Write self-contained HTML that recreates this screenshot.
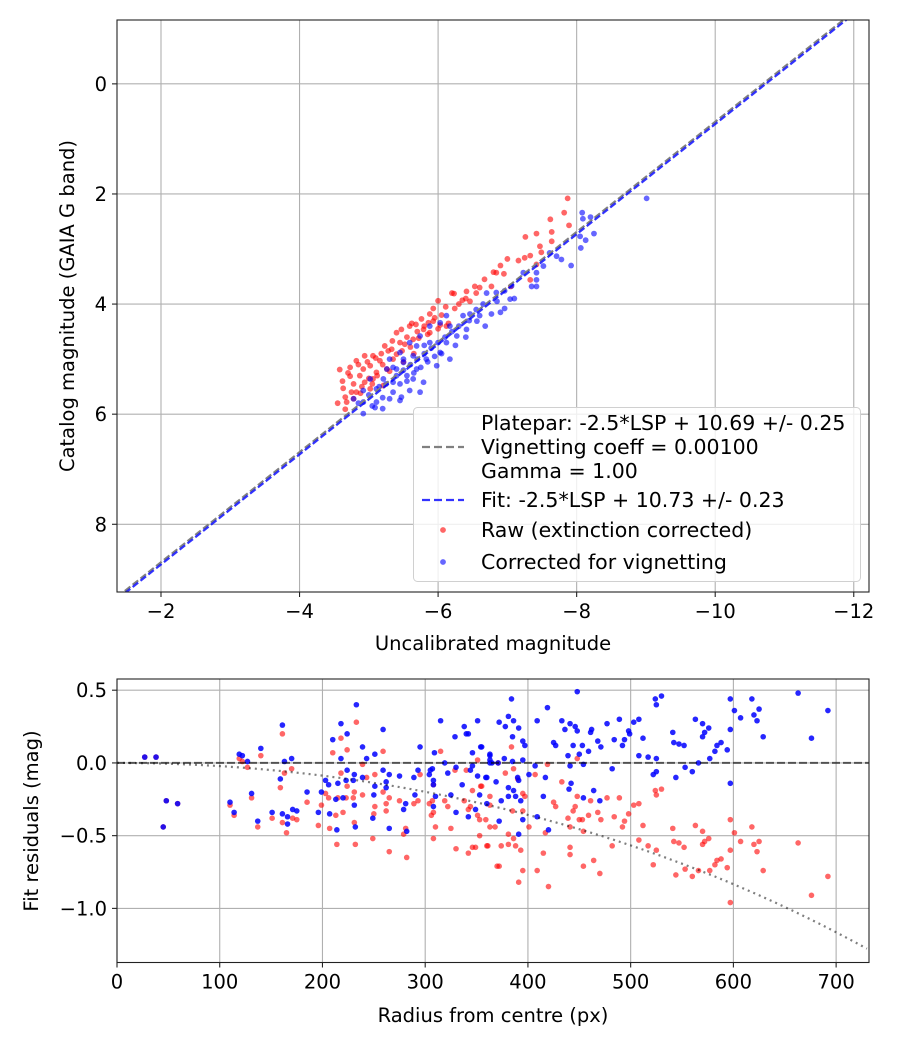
<!DOCTYPE html>
<html><head><meta charset="utf-8">
<style>
html,body{margin:0;padding:0;background:#fff;}
svg{display:block;font-family:"DejaVu Sans","Liberation Sans",sans-serif;}
</style></head>
<body>
<svg id="fig" width="900" height="1050" viewBox="0 0 900 1050" xmlns="http://www.w3.org/2000/svg"></svg>
<script>
// ---------- TOP PLOT DATA ----------
const topXTicks=[-2,-4,-6,-8,-10,-12];
const topYTicks=[0,2,4,6,8];
const plateparOffset=10.69;
const fitOffset=10.73;
const rawUncal=[-7.87,-7.82,-7.62,-7.89,-7.42,-7.26,-7.64,-7.64,-7.47,-7.49,-7.33,-7.25,-7.16,-7.00,-7.42,-6.90,-6.84,-6.80,-6.95,-6.67,-7.33,-6.53,-6.77,-7.05,-6.41,-6.20,-6.23,-6.35,-6.00,-6.46,-6.11,-5.93,-6.24,-5.88,-5.76,-5.62,-5.59,-5.68,-5.86,-5.93,-6.03,-6.12,-5.79,-5.88,-5.47,-5.40,-5.34,-5.52,-5.64,-5.33,-5.23,-5.06,-4.94,-4.82,-5.16,-5.02,-4.92,-4.73,-4.58,-5.11,-4.87,-4.73,-4.94,-4.78,-4.63,-5.21,-5.02,-4.82,-4.66,-4.78,-4.66,-5.06,-5.26,-5.40,
-4.70,-4.85,-4.98,-5.10,-5.18,-5.28,-5.45,-5.55,-5.70,-5.80,-5.95,-6.05,-6.30,-6.40,-6.55,-6.60,-4.62,-4.75,-4.90,-5.00,-5.12,-5.20,-5.35,-5.48,-5.60,-5.72,-5.85,-6.00,-4.55,-4.68,-4.88,-5.05,-5.30,-5.50,-5.65,-6.15];
const rawCat=[2.08,2.34,2.46,2.57,2.72,2.78,2.69,2.86,2.95,3.06,3.12,3.16,3.21,3.18,3.28,3.30,3.43,3.42,3.45,3.55,3.56,3.68,3.68,3.68,3.77,3.80,3.81,3.93,3.94,3.95,4.05,4.08,4.08,4.18,4.27,4.35,4.40,4.37,4.34,4.31,4.38,4.40,4.46,4.52,4.46,4.52,4.67,4.73,4.64,4.82,4.76,4.94,4.94,5.03,5.03,5.12,5.18,5.15,5.19,5.24,5.30,5.31,5.42,5.45,5.53,5.48,5.54,5.60,5.69,5.72,5.91,5.36,5.18,4.91,
5.25,5.10,5.05,4.98,4.90,4.85,4.70,4.60,4.50,4.40,4.25,4.20,4.00,3.90,3.80,3.70,5.40,5.60,5.50,5.35,5.30,5.10,5.00,4.85,4.78,4.62,4.55,4.45,5.80,5.78,5.62,5.45,5.22,5.05,4.90,4.35];
const corUncal=[-8.08,-8.20,-8.09,-8.25,-8.13,-8.05,-8.06,-7.92,-7.78,-7.71,-7.61,-7.52,-7.42,-7.42,-7.35,-7.42,-7.23,-7.06,-6.96,-7.04,-6.96,-6.84,-6.70,-6.77,-6.60,-6.68,-6.56,-6.46,-6.36,-6.41,-6.27,-6.17,-6.12,-6.03,-5.88,-5.74,-5.88,-6.12,-6.17,-6.03,-5.98,-5.83,-5.69,-5.59,-5.64,-5.45,-5.50,-5.69,-5.79,-5.55,-5.40,-5.30,-5.26,-5.35,-5.59,-5.47,-5.30,-5.11,-5.09,-4.92,-4.92,-5.11,-5.21,-5.02,-4.78,-4.92,-5.74,-5.64,-9.01,
-5.00,-5.15,-5.25,-5.40,-5.50,-5.60,-5.70,-5.80,-5.90,-6.00,-6.10,-6.20,-6.30,-6.45,-6.55,-6.65,-6.85,-5.05,-5.20,-5.35,-5.45,-5.55,-5.65,-5.75,-5.85,-5.95,-6.05,-6.25,-4.85,-5.20,-5.45,-5.35,-5.50,-5.80,-6.40,-6.90,-7.10];
const corCat=[2.34,2.42,2.45,2.72,2.84,2.77,2.98,3.30,3.19,3.13,3.07,3.31,3.43,3.56,3.68,3.68,3.43,3.67,3.76,3.91,4.08,3.79,3.80,4.18,4.21,4.40,4.31,4.18,4.21,4.46,4.58,4.40,4.21,4.34,4.40,4.58,4.70,4.70,5.00,4.88,5.12,5.00,4.76,4.70,4.94,4.88,5.06,5.18,5.42,5.30,5.18,5.00,5.18,5.42,5.57,5.69,5.72,5.78,5.88,5.78,5.57,5.54,5.36,5.36,5.72,5.99,5.60,5.36,2.08,
5.65,5.50,5.45,5.30,5.20,5.10,5.00,4.90,4.80,4.70,4.60,4.50,4.40,4.30,4.10,4.00,3.95,5.85,5.70,5.60,5.45,5.40,5.25,5.15,5.05,4.95,4.90,4.75,5.80,5.90,5.75,5.15,5.00,4.75,4.60,4.15,3.90];

// ---------- BOTTOM PLOT DATA ----------
const botXTicks=[0,100,200,300,400,500,600,700];
const botYTicks=[0.5,0.0,-0.5,-1.0];
const botYLabels=["0.5","0.0","\u22120.5","\u22121.0"];
const vignCoeff=0.001;
const rawR=[27,38,48,59,45,110,114,119,122,127,131,137,140,151,159,161,163,161,165,170,171,175,185,196,199,203,206,210,207,214,213,215,218,218,220,224,224,223,231,230,231,232,233,239,239,243,249,250,251,251,259,259,262,262,265,265,275,279,281,282,289,293,295,304,306,307,308,308,310,308,315,319,322,325,329,330,338,340,342,342,344,346,346,349,351,351,353,355,360,363,363,353,370,354,359,361,363,368,371,372,374,378,381,381,384,385,386,386,388,390,391,393,395,395,395,397,401,407,409,415,417,419,420,425,427,433,439,441,441,441,444,446,448,448,450,453,454,454,459,461,464,468,470,471,477,482,484,489,492,494,498,503,508,508,512,517,522,524,525,525,530,541,542,544,547,552,553,560,563,566,570,570,572,576,577,582,584,588,594,597,597,597,601,607,618,620,623,625,629,663,676,692];
const rawRes=[0.04,0.04,-0.26,-0.28,-0.44,-0.29,-0.36,0.03,0.01,-0.03,-0.24,-0.44,0.05,-0.38,-0.17,0.20,-0.07,-0.41,-0.48,-0.04,-0.38,-0.39,-0.27,-0.43,-0.29,-0.21,-0.24,0.07,-0.45,-0.56,-0.36,-0.24,0.17,-0.07,-0.34,0.09,-0.16,-0.24,-0.20,-0.24,-0.41,-0.56,0.28,-0.01,-0.22,-0.10,-0.52,-0.35,-0.08,-0.30,0.08,-0.20,-0.28,-0.33,-0.24,-0.61,-0.26,-0.49,-0.45,-0.65,-0.28,-0.26,-0.08,-0.28,-0.36,-0.26,-0.34,-0.15,-0.44,-0.52,0.08,-0.26,-0.30,-0.45,-0.05,-0.59,-0.26,-0.05,-0.32,-0.62,-0.30,-0.19,-0.58,-0.58,0.02,-0.36,-0.39,-0.16,-0.57,-0.44,-0.23,-0.50,-0.71,-0.16,-0.39,-0.57,-0.29,-0.44,0.00,-0.71,-0.57,-0.07,-0.49,-0.56,0.11,-0.33,-0.04,-0.52,-0.57,-0.11,-0.82,-0.60,-0.33,-0.74,-0.21,-0.23,-0.44,-0.08,-0.74,-0.62,-0.48,-0.01,-0.85,-0.27,-0.30,-0.13,-0.38,-0.58,-0.63,-0.44,-0.33,-0.30,0.03,-0.23,-0.39,-0.39,-0.71,-0.47,-0.36,-0.26,-0.67,-0.34,-0.76,-0.39,-0.24,-0.57,-0.37,-0.24,-0.44,-0.40,-0.35,-0.29,-0.28,-0.53,-0.43,-0.57,-0.70,-0.19,-0.22,-0.60,-0.18,-0.45,-0.54,-0.77,-0.55,-0.58,-0.73,-0.78,-0.43,-0.74,-0.47,-0.56,-0.54,-0.52,-0.74,-0.70,-0.67,-0.66,-0.72,-0.39,-0.60,-0.96,-0.48,-0.54,-0.44,-0.56,-0.61,-0.54,-0.74,-0.55,-0.91,-0.78];
const corR=[27,38,48,59,45,110,114,119,122,127,131,137,140,151,159,161,163,161,166,170,171,175,166,185,196,199,203,206,210,207,214,213,215,218,218,220,224,224,223,231,230,231,232,233,239,239,243,249,250,251,251,259,259,262,262,265,265,275,279,281,282,289,290,293,295,304,305,307,308,308,309,308,310,315,319,322,325,329,330,336,330,338,340,342,344,346,346,351,351,353,355,349,342,360,363,363,360,354,359,363,363,365,369,371,372,374,372,377,378,381,381,381,384,385,385,386,386,388,390,391,391,393,395,395,397,395,391,401,407,409,409,415,417,419,420,425,427,433,436,439,441,441,442,440,444,446,448,448,450,453,454,454,459,461,462,464,468,470,471,477,482,484,489,492,494,498,499,503,508,508,512,517,522,524,525,525,525,530,541,542,544,547,552,553,560,563,566,570,570,572,576,577,582,584,588,594,597,597,597,601,607,618,620,623,625,629,663,676,692];
const corRes=[0.04,0.04,-0.26,-0.28,-0.44,-0.27,-0.34,0.06,0.05,0.01,-0.21,-0.40,0.10,-0.34,-0.11,0.26,0.01,-0.35,-0.37,0.03,-0.32,-0.33,-0.42,-0.20,-0.34,-0.20,-0.12,-0.15,0.16,-0.35,-0.46,-0.25,-0.14,0.27,0.03,-0.24,0.20,-0.05,-0.12,-0.08,-0.12,-0.29,-0.44,0.40,0.11,-0.10,0.03,-0.38,-0.22,0.06,-0.16,0.23,-0.05,-0.13,-0.17,-0.08,-0.45,-0.09,-0.32,-0.28,-0.47,-0.10,-0.22,-0.05,0.11,-0.08,-0.05,-0.04,-0.12,-0.15,0.07,-0.30,-0.23,0.29,0.00,-0.07,-0.22,0.18,-0.03,-0.15,-0.34,0.25,0.20,0.20,-0.05,0.07,-0.02,0.29,-0.09,-0.22,0.11,-0.32,-0.37,-0.10,0.00,0.05,-0.28,0.11,-0.10,0.06,0.02,0.00,-0.13,0.00,0.28,-0.26,-0.40,0.03,0.25,-0.17,0.32,-0.23,0.44,0.01,0.18,0.29,-0.19,-0.23,-0.10,0.24,-0.12,-0.26,0.15,0.02,0.12,-0.39,-0.49,-0.08,-0.02,0.29,-0.37,-0.23,-0.10,0.38,-0.46,0.14,0.12,0.29,0.23,0.05,0.27,-0.02,-0.14,-0.18,0.12,0.25,0.49,0.22,0.06,0.12,-0.01,-0.24,0.08,0.21,0.23,-0.19,0.15,-0.26,0.11,0.27,-0.04,0.16,0.30,0.12,0.16,0.22,0.20,0.28,0.30,0.05,0.17,0.04,-0.08,0.44,0.40,-0.06,0.03,0.46,0.21,0.14,-0.10,0.13,0.12,-0.03,-0.06,0.30,0.00,0.27,0.18,0.21,0.24,0.03,0.08,0.12,0.14,0.09,0.44,0.23,-0.14,0.36,0.31,0.44,0.33,0.29,0.37,0.18,0.48,0.17,0.36];

const NS='http://www.w3.org/2000/svg';
const svg=document.getElementById('fig');
function mk(tag,attrs,parent){const e=document.createElementNS(NS,tag);for(const k in attrs)e.setAttribute(k,attrs[k]);(parent||svg).appendChild(e);return e;}
function fmt(v){return v<0?'\u2212'+Math.abs(v):String(v);}
const FS=19.5;

// ===== TOP AXES =====
const T={l:117,r:869,t:20,b:592,x0:-1.365,x1:-12.22,y0:-1.16,y1:9.23};
const tx=v=>T.l+(v-T.x0)/(T.x1-T.x0)*(T.r-T.l);
const ty=v=>T.t+(v-T.y0)/(T.y1-T.y0)*(T.b-T.t);
const topG=mk('g',{});


const ct=mk('clipPath',{id:'ct'});mk('rect',{x:T.l,y:T.t,width:T.r-T.l,height:T.b-T.t},ct);
topXTicks.forEach(v=>{
  const g=mk('line',{x1:tx(v),x2:tx(v),y1:T.t,y2:T.b,stroke:'#b0b0b0','stroke-width':1.1},topG);
  
  mk('line',{x1:tx(v),x2:tx(v),y1:T.b,y2:T.b+5,stroke:'#222','stroke-width':1.1},topG);
  const t=mk('text',{x:tx(v),y:T.b+26,'text-anchor':'middle','font-size':FS},topG);t.textContent=fmt(v);
  
});
topYTicks.forEach(v=>{
  const g=mk('line',{x1:T.l,x2:T.r,y1:ty(v),y2:ty(v),stroke:'#b0b0b0','stroke-width':1.1},topG);
  
  mk('line',{x1:T.l-5,x2:T.l,y1:ty(v),y2:ty(v),stroke:'#222','stroke-width':1.1},topG);
  const t=mk('text',{x:T.l-10,y:ty(v)+7,'text-anchor':'end','font-size':FS},topG);t.textContent=fmt(v);
  
});
const pts=mk('g',{'clip-path':'url(#ct)'},topG);

rawUncal.forEach((x,i)=>{const c=mk('circle',{cx:tx(x),cy:ty(rawCat[i]),r:2.9,fill:'rgba(255,0,0,0.6)'},pts);
  });
corUncal.forEach((x,i)=>{const c=mk('circle',{cx:tx(x),cy:ty(corCat[i]),r:2.9,fill:'rgba(0,0,255,0.6)'},pts);
  });
const pl=mk('line',{x1:tx(T.x0),y1:ty(T.x0+plateparOffset),x2:tx(T.x1),y2:ty(T.x1+plateparOffset),stroke:'#808080','stroke-width':2.2,'stroke-dasharray':'7,3'},pts);

const fl=mk('line',{x1:tx(T.x0),y1:ty(T.x0+fitOffset),x2:tx(T.x1),y2:ty(T.x1+fitOffset),stroke:'rgba(0,0,255,0.8)','stroke-width':2.2,'stroke-dasharray':'7,3'},pts);

const tf=mk('rect',{x:T.l,y:T.t,width:T.r-T.l,height:T.b-T.t,fill:'none',stroke:'#222','stroke-width':1.1},topG);

let lab=mk('text',{x:493,y:650,'text-anchor':'middle','font-size':FS},topG);lab.textContent='Uncalibrated magnitude';

lab=mk('text',{x:0,y:0,'text-anchor':'middle','font-size':FS,transform:'translate(74,306) rotate(-90)'},topG);lab.textContent='Catalog magnitude (GAIA G band)';


// legend
const lg=mk('g',{},topG);

mk('rect',{x:413.5,y:407.5,width:447,height:174,rx:4,fill:'rgba(255,255,255,0.8)',stroke:'#d0d0d0','stroke-width':1},lg);
const legRows=[['Platepar: -2.5*LSP + 10.69 +/- 0.25',423],['Vignetting coeff = 0.00100',447],['Gamma = 1.00',471],['Fit: -2.5*LSP + 10.73 +/- 0.23',500],['Raw (extinction corrected)',530],['Corrected for vignetting',562]];
legRows.forEach(r=>{const t=mk('text',{x:481,y:r[1]+7,'font-size':20.5},lg);t.textContent=r[0];
  });
mk('line',{x1:422,x2:464,y1:447,y2:447,stroke:'#808080','stroke-width':2.2,'stroke-dasharray':'8,4'},lg);
mk('line',{x1:422,x2:464,y1:500,y2:500,stroke:'rgba(0,0,255,0.8)','stroke-width':2.2,'stroke-dasharray':'8,4'},lg);
mk('circle',{cx:443,cy:530,r:2.9,fill:'rgba(255,0,0,0.6)'},lg);
mk('circle',{cx:443,cy:562,r:2.9,fill:'rgba(0,0,255,0.6)'},lg);

// ===== BOTTOM AXES =====
const B={l:117,r:869,t:679,b:962.5,x0:0,x1:732,y0:0.577,y1:-1.372};
const bx=v=>B.l+(v-B.x0)/(B.x1-B.x0)*(B.r-B.l);
const by=v=>B.t+(v-B.y0)/(B.y1-B.y0)*(B.b-B.t);
const botG=mk('g',{});

const cb=mk('clipPath',{id:'cb'});mk('rect',{x:B.l,y:B.t,width:B.r-B.l,height:B.b-B.t},cb);
botXTicks.forEach(v=>{
  const g=mk('line',{x1:bx(v),x2:bx(v),y1:B.t,y2:B.b,stroke:'#b0b0b0','stroke-width':1.1},botG);
  
  mk('line',{x1:bx(v),x2:bx(v),y1:B.b,y2:B.b+5,stroke:'#222','stroke-width':1.1},botG);
  const t=mk('text',{x:bx(v),y:B.b+26,'text-anchor':'middle','font-size':FS},botG);t.textContent=String(v);
  
});
botYTicks.forEach((v,i)=>{
  const g=mk('line',{x1:B.l,x2:B.r,y1:by(v),y2:by(v),stroke:'#b0b0b0','stroke-width':1.1},botG);
  
  mk('line',{x1:B.l-5,x2:B.l,y1:by(v),y2:by(v),stroke:'#222','stroke-width':1.1},botG);
  const t=mk('text',{x:B.l-10,y:by(v)+7,'text-anchor':'end','font-size':FS},botG);t.textContent=botYLabels[i];
  
});
const bp=mk('g',{'clip-path':'url(#cb)'},botG);

rawR.forEach((r,i)=>{const c=mk('circle',{cx:bx(r),cy:by(rawRes[i]),r:2.8,fill:'rgba(255,0,0,0.6)'},bp);
  });
corR.forEach((r,i)=>{const c=mk('circle',{cx:bx(r),cy:by(corRes[i]),r:2.8,fill:'rgba(0,0,255,0.85)'},bp);
  });
const zl=mk('line',{x1:B.l,x2:B.r,y1:by(0),y2:by(0),stroke:'rgba(0,0,0,0.6)','stroke-width':2,'stroke-dasharray':'8,3'},bp);

let d='';for(let r=0;r<=B.x1;r+=5){const v=10*Math.log10(Math.cos(vignCoeff*r));d+=(r?'L':'M')+bx(r).toFixed(1)+','+by(v).toFixed(1);}
const vc=mk('path',{d:d,fill:'none',stroke:'rgba(0,0,0,0.5)','stroke-width':2.2,'stroke-dasharray':'2,4'},bp);

const bf=mk('rect',{x:B.l,y:B.t,width:B.r-B.l,height:B.b-B.t,fill:'none',stroke:'#222','stroke-width':1.1},botG);

lab=mk('text',{x:493,y:1022,'text-anchor':'middle','font-size':FS},botG);lab.textContent='Radius from centre (px)';

lab=mk('text',{x:0,y:0,'text-anchor':'middle','font-size':FS,transform:'translate(38,821) rotate(-90)'},botG);lab.textContent='Fit residuals (mag)';

</script>
</body></html>
